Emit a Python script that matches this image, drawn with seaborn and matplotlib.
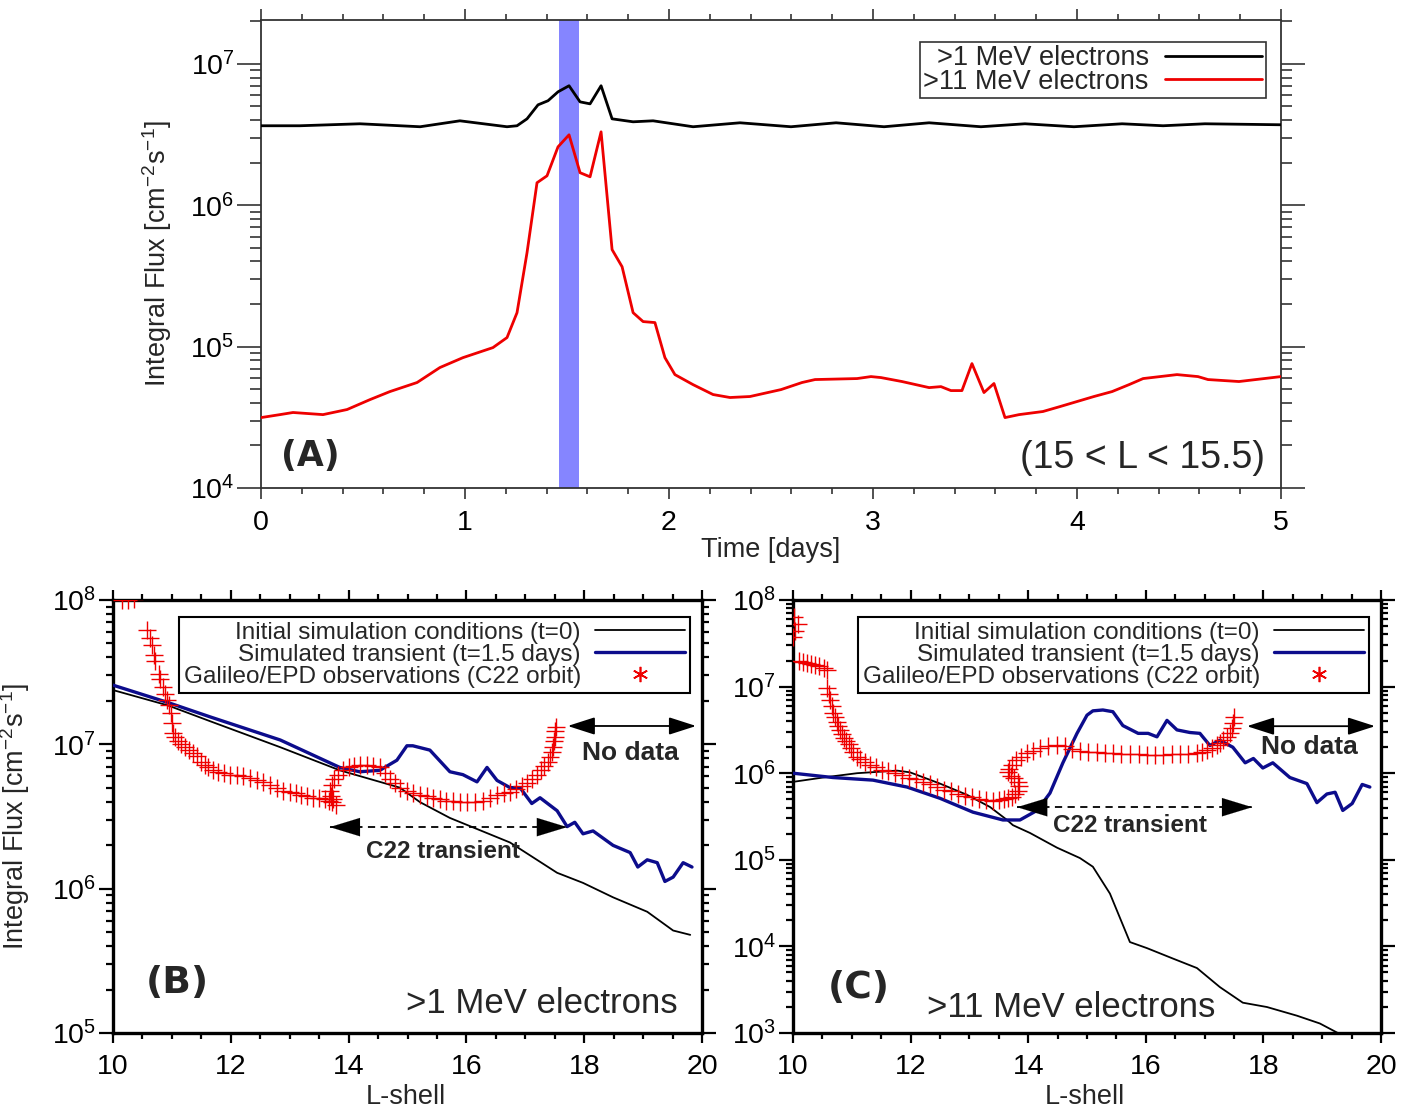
import numpy as np
import pandas as pd
import seaborn as sns
import matplotlib
matplotlib.use("Agg")
import matplotlib.pyplot as plt
from matplotlib.ticker import LogLocator, MultipleLocator, NullFormatter
from matplotlib.lines import Line2D

# ---------------- DATA (fluxes as log10) -------------
# Panel A : time series at 15 < L < 15.5
a_black_t = [0.0, 0.19, 0.485, 0.78, 0.975, 1.206, 1.255, 1.304, 1.358, 1.407, 1.456, 1.51,
             1.564, 1.613, 1.667, 1.721, 1.824, 1.922, 2.118, 2.348, 2.598, 2.819, 3.054,
             3.275, 3.529, 3.745, 3.985, 4.221, 4.422, 4.627, 5.0]
a_black_log = [6.562, 6.562, 6.576, 6.555, 6.597, 6.555, 6.562, 6.611, 6.71, 6.739, 6.802, 6.845,
               6.731, 6.717, 6.845, 6.611, 6.59, 6.597, 6.555, 6.583, 6.555, 6.583, 6.555,
               6.583, 6.555, 6.576, 6.555, 6.576, 6.562, 6.576, 6.569]
a_red_t = [0.0, 0.093, 0.157, 0.304, 0.422, 0.534, 0.632, 0.765, 0.877, 0.99, 1.137, 1.206, 1.255,
           1.304, 1.353, 1.402, 1.456, 1.51, 1.564, 1.613, 1.667, 1.721, 1.77, 1.824, 1.873,
           1.931, 1.98, 2.029, 2.118, 2.216, 2.299, 2.397, 2.549, 2.652, 2.716, 2.922, 2.99,
           3.039, 3.142, 3.275, 3.333, 3.382, 3.436, 3.485, 3.544, 3.593, 3.647, 3.716, 3.833,
           3.917, 4.083, 4.172, 4.255, 4.324, 4.49, 4.593, 4.642, 4.794, 5.0]
a_red_log = [4.498, 4.519, 4.534, 4.519, 4.555, 4.625, 4.682, 4.746, 4.852, 4.922, 4.993, 5.064,
             5.24, 5.664, 6.159, 6.208, 6.413, 6.498, 6.23, 6.201, 6.519, 5.686, 5.565, 5.24,
             5.177, 5.17, 4.922, 4.802, 4.731, 4.661, 4.64, 4.647, 4.696, 4.746, 4.767, 4.774,
             4.788, 4.781, 4.753, 4.71, 4.717, 4.689, 4.689, 4.88, 4.675, 4.739, 4.498, 4.519,
             4.541, 4.576, 4.647, 4.682, 4.731, 4.774, 4.802, 4.788, 4.767, 4.753, 4.788]
a_band = [1.46, 1.56]

# Panel B : >1 MeV electrons vs L-shell
b_init_L = [10.0, 10.93, 11.65, 12.84, 13.85, 14.87, 15.21, 15.72, 16.74, 17.54, 17.98, 18.49,
            19.07, 19.51, 19.8]
b_init_log = [7.376, 7.27, 7.16, 6.98, 6.82, 6.70, 6.60, 6.49, 6.32, 6.11, 6.04, 5.94, 5.84,
              5.71, 5.68]
b_sim_L = [10.0, 10.93, 11.65, 12.84, 13.85, 14.19, 14.53, 14.82, 14.99, 15.09, 15.38, 15.72,
           15.94, 16.18, 16.35, 16.52, 16.74, 16.91, 17.11, 17.25, 17.54, 17.71, 17.84, 17.98,
           18.15, 18.49, 18.78, 18.91, 19.07, 19.24, 19.37, 19.51, 19.68, 19.83]
b_sim_log = [7.41, 7.29, 7.19, 7.03, 6.84, 6.81, 6.82, 6.89, 6.99, 6.99, 6.96, 6.81, 6.79, 6.74,
             6.84, 6.75, 6.70, 6.70, 6.59, 6.63, 6.54, 6.43, 6.46, 6.38, 6.40, 6.30, 6.25, 6.15,
             6.20, 6.18, 6.05, 6.08, 6.18, 6.15]
b_obs_L = [10.15, 10.25, 10.35, 10.58, 10.62, 10.66, 10.69, 10.72, 10.78, 10.80, 10.85, 10.88,
           10.92, 10.95, 10.98, 11.0, 11.02, 11.06, 11.10, 11.16, 11.22, 11.29, 11.36, 11.43,
           11.50, 11.56, 11.62, 11.70, 11.78, 11.88, 11.99, 12.1, 12.2, 12.33, 12.45, 12.55,
           12.66, 12.78, 12.89, 13.0, 13.1, 13.2, 13.3, 13.4, 13.5, 13.6, 13.66, 13.72, 13.78,
           13.70, 13.74, 13.68, 13.72, 13.76, 13.82, 13.90, 14.0, 14.1, 14.2, 14.31, 14.42,
           14.53, 14.62, 14.70, 14.78, 14.88, 14.99, 15.10, 15.22, 15.33, 15.43, 15.55, 15.66,
           15.77, 15.89, 16.01, 16.14, 16.28, 16.40, 16.52, 16.63, 16.74, 16.85, 16.95, 17.03,
           17.12, 17.20, 17.26, 17.32, 17.38, 17.42, 17.45, 17.47, 17.49, 17.50, 17.51, 17.52]
b_obs_log = [8.0, 8.0, 8.01, 7.79, 7.74, 7.69, 7.62, 7.58, 7.49, 7.45, 7.40, 7.35, 7.31, 7.27,
             7.22, 7.15, 7.08, 7.05, 7.02, 7.00, 6.98, 6.96, 6.94, 6.92, 6.88, 6.86, 6.84, 6.82,
             6.81, 6.80, 6.79, 6.79, 6.78, 6.77, 6.75, 6.74, 6.72, 6.70, 6.68, 6.67, 6.66, 6.65,
             6.64, 6.63, 6.63, 6.62, 6.61, 6.60, 6.58, 6.64, 6.62, 6.68, 6.72, 6.76, 6.79, 6.82,
             6.84, 6.85, 6.86, 6.86, 6.85, 6.84, 6.80, 6.76, 6.73, 6.70, 6.68, 6.66, 6.65, 6.64,
             6.63, 6.62, 6.61, 6.61, 6.60, 6.60, 6.60, 6.61, 6.63, 6.65, 6.66, 6.67, 6.69, 6.71,
             6.73, 6.76, 6.79, 6.82, 6.85, 6.88, 6.91, 6.95, 6.98, 7.02, 7.05, 7.09, 7.12]

# Panel C : >11 MeV electrons vs L-shell
c_init_L = [10.0, 10.51, 11.09, 11.77, 11.99, 12.5, 12.96, 13.35, 13.64, 13.74, 14.03, 14.49,
            14.88, 15.10, 15.39, 15.73, 16.02, 16.46, 16.87, 17.26, 17.65, 18.06, 18.57, 18.96,
            19.35, 19.8]
c_init_log = [5.90, 5.95, 6.00, 6.03, 6.01, 5.88, 5.75, 5.61, 5.46, 5.40, 5.31, 5.14, 5.02, 4.92,
              4.61, 4.05, 3.98, 3.86, 3.75, 3.53, 3.35, 3.30, 3.20, 3.11, 2.97, 2.85]
c_sim_L = [10.0, 10.68, 11.36, 11.94, 12.5, 13.06, 13.57, 13.86, 14.15, 14.37, 14.59, 14.83,
           15.0, 15.10, 15.27, 15.44, 15.61, 15.87, 16.04, 16.19, 16.36, 16.53, 16.75, 16.92,
           17.09, 17.26, 17.48, 17.69, 17.83, 17.99, 18.16, 18.45, 18.74, 18.91, 19.08, 19.22,
           19.35, 19.51, 19.68, 19.81]
c_sim_log = [6.0, 5.95, 5.92, 5.84, 5.71, 5.55, 5.46, 5.46, 5.57, 5.77, 6.12, 6.46, 6.67, 6.72,
             6.73, 6.71, 6.55, 6.46, 6.46, 6.42, 6.61, 6.50, 6.47, 6.46, 6.32, 6.38, 6.30, 6.12,
             6.17, 6.06, 6.12, 5.95, 5.88, 5.66, 5.76, 5.78, 5.57, 5.65, 5.87, 5.84]
c_obs_L = [10.02, 10.08, 10.03, 10.0, 10.10, 10.17, 10.24, 10.31, 10.38, 10.45, 10.52, 10.58,
           10.58, 10.61, 10.63, 10.66, 10.68, 10.71, 10.74, 10.77, 10.80, 10.83, 10.86, 10.90,
           10.95, 10.99, 11.02, 11.08, 11.14, 11.22, 11.31, 11.42, 11.52, 11.62, 11.74, 11.86,
           11.97, 12.1, 12.21, 12.33, 12.45, 12.57, 12.69, 12.80, 12.92, 13.04, 13.16, 13.28,
           13.40, 13.50, 13.58, 13.66, 13.72, 13.78, 13.82, 13.84, 13.82, 13.76, 13.70, 13.66,
           13.68, 13.73, 13.80, 13.88, 13.98, 14.08, 14.20, 14.33, 14.49, 14.62, 14.75, 14.88,
           15.02, 15.17, 15.30, 15.44, 15.58, 15.73, 15.88, 16.02, 16.16, 16.29, 16.44, 16.58,
           16.72, 16.87, 16.96, 17.04, 17.12, 17.21, 17.27, 17.31, 17.38, 17.43, 17.46, 17.48,
           17.50]
c_obs_log = [7.80, 7.72, 7.64, 7.57, 7.29, 7.28, 7.27, 7.26, 7.25, 7.24, 7.22, 7.19, 6.98, 6.92,
             6.85, 6.78, 6.70, 6.65, 6.59, 6.54, 6.50, 6.45, 6.41, 6.37, 6.34, 6.29, 6.24, 6.19,
             6.16, 6.13, 6.10, 6.07, 6.04, 6.02, 6.00, 5.98, 5.95, 5.93, 5.90, 5.88, 5.84, 5.81,
             5.79, 5.76, 5.74, 5.72, 5.70, 5.69, 5.68, 5.69, 5.70, 5.71, 5.73, 5.76, 5.80, 5.85,
             5.90, 5.94, 5.97, 6.01, 6.05, 6.10, 6.15, 6.19, 6.23, 6.26, 6.29, 6.31, 6.32, 6.31,
             6.28, 6.26, 6.25, 6.24, 6.23, 6.23, 6.22, 6.22, 6.22, 6.21, 6.21, 6.21, 6.22, 6.22,
             6.22, 6.23, 6.25, 6.27, 6.29, 6.32, 6.35, 6.38, 6.42, 6.46, 6.52, 6.58, 6.65]

legend_a = [">1 MeV electrons", ">11 MeV electrons"]
legend_bc = ["Initial simulation conditions (t=0)", "Simulated transient (t=1.5 days)",
             "Galileo/EPD observations (C22 orbit)"]

# --------------------------------------------------------------------------------------
sns.set_theme(style="ticks")
plt.rcParams["font.family"] = ["Liberation Sans", "DejaVu Sans"]
plt.rcParams["mathtext.fontset"] = "custom"
plt.rcParams["mathtext.rm"] = "Liberation Sans"
plt.rcParams["mathtext.it"] = "Liberation Sans:italic"
plt.rcParams["mathtext.bf"] = "Liberation Sans:bold"

BLUE = "#0c0c8c"
RED = "#ee0000"
BAND = "#8585ff"
YLAB = "Integral Flux [cm$^{-2}$s$^{-1}$]"

fig = plt.figure(figsize=(14.22, 11.13), dpi=100)
W, H = 1422, 1113


def axes_px(l, t, r, b):
    return fig.add_axes([l / W, 1 - b / H, (r - l) / W, (b - t) / H])


def style(ax, spine_lw, spine_col, xmaj, xmin, ymaj_len, ymin_len, xmaj_len, xmin_len, tw):
    ax.set_yscale("log")
    for s in ax.spines.values():
        s.set_linewidth(spine_lw)
        s.set_color(spine_col)
        s.set_visible(True)
    ax.xaxis.set_major_locator(MultipleLocator(xmaj))
    ax.xaxis.set_minor_locator(MultipleLocator(xmin))
    ax.yaxis.set_major_locator(LogLocator(base=10, numticks=20))
    ax.yaxis.set_minor_locator(LogLocator(base=10, subs=np.arange(2, 10), numticks=20))
    ax.yaxis.set_minor_formatter(NullFormatter())
    ax.tick_params(which="both", direction="out", top=True, right=True, labeltop=False,
                   labelright=False, colors=spine_col, labelcolor="black", width=tw,
                   labelsize=20.5)
    ax.tick_params(axis="y", which="major", length=ymaj_len, pad=2)
    ax.tick_params(axis="y", which="minor", length=ymin_len)
    ax.tick_params(axis="x", which="major", length=xmaj_len, pad=8)
    ax.tick_params(axis="x", which="minor", length=xmin_len)
    ax.set_facecolor("white")


# ---------------- Panel A ----------------
axA = axes_px(261, 20, 1281, 488)
dfA1 = pd.DataFrame({"t": a_black_t, "flux": 10 ** np.array(a_black_log)})
dfA2 = pd.DataFrame({"t": a_red_t, "flux": 10 ** np.array(a_red_log)})
axA.axvspan(a_band[0], a_band[1], color=BAND, lw=0, zorder=1)
sns.lineplot(data=dfA1, x="t", y="flux", ax=axA, color="black", lw=2.0, sort=False,
             estimator=None, zorder=3)
sns.lineplot(data=dfA2, x="t", y="flux", ax=axA, color=RED, lw=2.0, sort=False,
             estimator=None, zorder=3)
style(axA, 1.3, "#333333", 1, 0.2, 17, 8, 8, 4, 1.2)
axA.set_xlim(0, 5)
axA.set_ylim(1e4, 10 ** 7.31)
axA.set_xlabel("Time [days]", fontsize=19.5)
axA.set_ylabel(YLAB, fontsize=19.5)
axA.xaxis.set_label_coords(0.5, -0.105)
axA.yaxis.set_label_coords(-0.085, 0.5)
hA = [Line2D([], [], color="black", lw=2.0), Line2D([], [], color=RED, lw=2.0)]
legA = axA.legend(hA, legend_a, loc="upper right", bbox_to_anchor=(0.985, 0.953),
                  borderaxespad=0, markerfirst=False, fancybox=False, framealpha=1,
                  edgecolor="#333333", fontsize=19.5, handlelength=3.6, handletextpad=0.6,
                  labelspacing=-0.1, borderpad=0.12)
legA.get_frame().set_linewidth(1.2)
axA.text(0.048, 0.068, "(A)", transform=axA.transAxes, ha="center", va="center",
         fontsize=25, fontweight="bold", family="DejaVu Sans")
axA.text(0.984, 0.064, "(15 < L < 15.5)", transform=axA.transAxes, ha="right",
         va="center", fontsize=27)


# ---------------- Panels B and C ----------------
def panel(ax, init_L, init_log, sim_L, sim_log, obs_L, obs_log, ylim, nodata_y, nodata_txt_y,
          c22_x, c22_y, c22_txt, label, label_xy, energy, energy_xy):
    d_init = pd.DataFrame({"L": init_L, "flux": 10 ** np.array(init_log)})
    d_sim = pd.DataFrame({"L": sim_L, "flux": 10 ** np.array(sim_log)})
    d_obs = pd.DataFrame({"L": obs_L, "flux": 10 ** np.array(obs_log)})
    sns.lineplot(data=d_init, x="L", y="flux", ax=ax, color="black", lw=1.3, sort=False,
                 estimator=None, zorder=3)
    sns.lineplot(data=d_sim, x="L", y="flux", ax=ax, color=BLUE, lw=2.4, sort=False,
                 estimator=None, zorder=3)
    sns.scatterplot(data=d_obs, x="L", y="flux", ax=ax, marker="+", s=170, color=RED,
                    linewidth=1.0, zorder=4)
    style(ax, 2.4, "black", 2, 0.5, 10, 5, 7, 4, 1.6)
    ax.set_xlim(10, 20)
    ax.set_ylim(*ylim)
    ax.set_xlabel("L-shell", fontsize=19.5)
    ax.xaxis.set_label_coords(0.497, -0.118)
    # No data arrow
    ax.annotate("", xy=(19.9, nodata_y), xytext=(17.72, nodata_y),
                arrowprops=dict(arrowstyle="<|-|>,head_length=1.4,head_width=0.45",
                                color="black", lw=1.3, shrinkA=0, shrinkB=0), zorder=5)
    ax.text(18.78, nodata_txt_y, "No data", ha="center", va="center", fontsize=19,
            fontweight="bold")
    # C22 transient dashed arrow
    ax.plot(c22_x, [c22_y, c22_y], color="black", lw=1.3, ls=(0, (4, 3)), zorder=5)
    for x0, x1 in ((c22_x[0] + 0.5, c22_x[0]), (c22_x[1] - 0.5, c22_x[1])):
        ax.annotate("", xy=(x1, c22_y), xytext=(x0, c22_y),
                    arrowprops=dict(arrowstyle="-|>,head_length=1.8,head_width=0.55",
                                    color="black", lw=0.1, shrinkA=0, shrinkB=0), zorder=5)
    ax.text(c22_txt[0], c22_txt[1], "C22 transient", ha="center", va="center",
            fontsize=17.5, fontweight="bold")
    ax.text(label_xy[0], label_xy[1], label, transform=ax.transAxes, ha="center",
            va="center", fontsize=27, fontweight="bold", family="DejaVu Sans")
    ax.text(energy_xy[0], energy_xy[1], energy, transform=ax.transAxes, ha="right",
            va="center", fontsize=25)
    h = [Line2D([], [], color="black", lw=1.3), Line2D([], [], color=BLUE, lw=2.4),
         Line2D([], [], color=RED, lw=0, marker=(6, 2, 0), markersize=11, mew=1.2)]
    leg = ax.legend(h, legend_bc, loc="upper right", bbox_to_anchor=(0.98, 0.961),
                    borderaxespad=0, markerfirst=False, fancybox=False, framealpha=1,
                    edgecolor="black", fontsize=17.5, handlelength=3.7, handletextpad=0.6,
                    labelspacing=0.0, borderpad=0.2)
    leg.get_frame().set_linewidth(1.5)


axB = axes_px(113, 600, 702, 1033)
panel(axB, b_init_L, b_init_log, b_sim_L, b_sim_log, b_obs_L, b_obs_log, (1e5, 1e8),
      1.34e7, 8.7e6, (13.68, 17.71), 2.67e6, (15.6, 1.82e6), "(B)", (0.110, 0.115),
      ">1 MeV electrons", (0.959, 0.069))
axB.set_ylabel(YLAB, fontsize=19.5)
axB.yaxis.set_label_coords(-0.138, 0.5)

axC = axes_px(793, 600, 1381, 1033)
panel(axC, c_init_L, c_init_log, c_sim_L, c_sim_log, c_obs_L, c_obs_log, (1e3, 1e8),
      3.49e6, 2.0e6, (13.81, 17.81), 4.05e5, (15.73, 2.46e5), "(C)", (0.111, 0.104),
      ">11 MeV electrons", (0.718, 0.058))
axC.set_ylabel("")

fig.savefig("out.png", dpi=100, facecolor="white")
